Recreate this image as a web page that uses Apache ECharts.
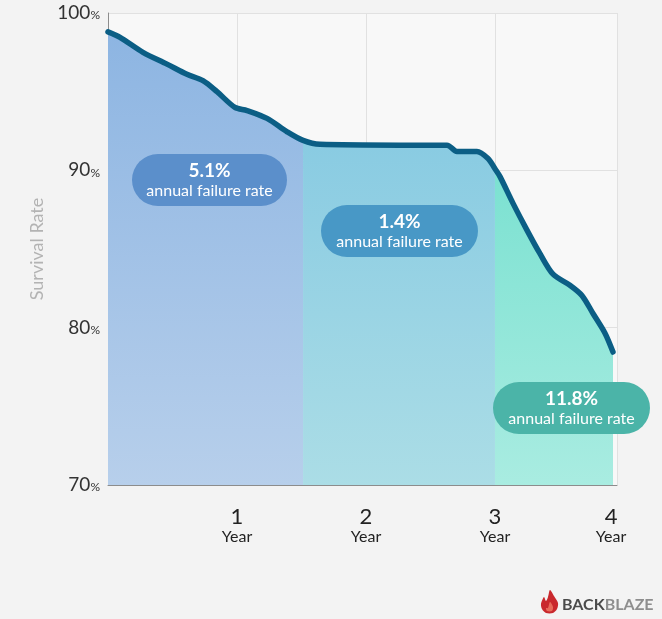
<!DOCTYPE html>
<html>
<head>
<meta charset="utf-8">
<script src="https://cdn.jsdelivr.net/npm/echarts@6/dist/echarts.min.js"></script>
<style>html,body{margin:0;padding:0;background:#f3f3f3;}#c{width:662px;height:619px;}</style>
</head>
<body>
<div id="c"></div>
<script>
// ---- data ----
var years = [0, 0.093, 0.271, 0.457, 0.612, 0.736, 0.845, 0.984, 1.078, 1.233, 1.388, 1.512, 1.643, 2.264, 2.628, 2.705, 2.86, 2.946, 3.0, 3.039, 3.14, 3.248, 3.349, 3.45, 3.581, 3.674, 3.76, 3.853, 3.915];
var survival = [98.8, 98.45, 97.5, 96.75, 96.1, 95.7, 95.0, 94.0, 93.8, 93.3, 92.45, 91.9, 91.65, 91.6, 91.6, 91.2, 91.2, 90.75, 90.1, 89.6, 87.9, 86.2, 84.7, 83.4, 82.7, 82.05, 80.9, 79.65, 78.45];
var segmentBreaks = [1.512, 3.0];
var failureRates = ['5.1%', '1.4%', '11.8%'];
var failureLabel = 'annual failure rate';
var xTickValues = [1, 2, 3, 3.9];
var xTickLabels = ['1', '2', '3', '4'];
var xUnit = 'Year';
var yTicks = [70, 80, 90, 100];

var FONT = 'Lato, "Open Sans", sans-serif';
var pts = years.map(function (x, i) { return [x, survival[i]]; });
function seg(a, b) { return pts.filter(function (p) { return p[0] >= a && p[0] <= b; }); }
var segData = [
  seg(0, segmentBreaks[0]),
  seg(segmentBreaks[0], segmentBreaks[1]),
  seg(segmentBreaks[1], 99)
];
var segColors = [
  ['#8db5e2', '#b7cfeb'],
  ['#89cbe2', '#abdde6'],
  ['#7be1d1', '#a9ece1']
];
function grad(c) {
  return new echarts.graphic.LinearGradient(0, 0, 0, 1, [
    { offset: 0, color: c[0] }, { offset: 1, color: c[1] }
  ]);
}
var SMOOTH = 0.3;
var series = segData.map(function (d, i) {
  return {
    type: 'line', data: d, smooth: SMOOTH, symbol: 'none',
    lineStyle: { width: 0 }, areaStyle: { color: grad(segColors[i]), opacity: 1, origin: 'start' },
    z: 2, silent: true
  };
});
series.push({
  type: 'line', data: pts, smooth: SMOOTH, symbol: 'none',
  lineStyle: { color: '#0b5e85', width: 5.5, cap: 'round', join: 'round' },
  z: 5, silent: true
});

function badge(x, y, w, h, color, pct) {
  return {
    type: 'group', x: x, y: y,
    children: [
      { type: 'rect', z: 100, shape: { x: 0, y: 0, width: w, height: h, r: h / 2 }, style: { fill: color } },
      { type: 'text', z: 101, x: w / 2, y: 17, style: { text: pct, fill: '#fff', font: 'bold 19px ' + FONT, align: 'center', verticalAlign: 'middle' } },
      { type: 'text', z: 101, x: w / 2, y: 37, style: { text: failureLabel, fill: '#fff', font: '16px ' + FONT, align: 'center', verticalAlign: 'middle' } }
    ]
  };
}

var chart = echarts.init(document.getElementById('c'), null, { renderer: 'canvas' });
chart.setOption({
  backgroundColor: '#f3f3f3',
  animation: false,
  grid: { left: 108, right: 45, top: 13, bottom: 134, show: true, backgroundColor: '#f8f8f8', borderWidth: 0 },
  xAxis: {
    type: 'value', min: 0, max: 3.946, interval: 1,
    axisLine: { show: true, lineStyle: { color: '#8c8c8c', width: 1 } },
    axisTick: { show: false },
    splitLine: { show: true, lineStyle: { color: '#e1e1e1', width: 1 } },
    axisLabel: {
      customValues: xTickValues,
      margin: 22,
      formatter: function (v) {
        var i = xTickValues.indexOf(v);
        if (i < 0) return '';
        return '{n|' + xTickLabels[i] + '}\n{u|' + xUnit + '}';
      },
      rich: {
        n: { fontSize: 22, fontFamily: FONT, color: '#222', lineHeight: 20 },
        u: { fontSize: 16, fontFamily: FONT, color: '#222', lineHeight: 19 }
      }
    }
  },
  yAxis: {
    type: 'value', min: yTicks[0], max: yTicks[yTicks.length - 1], interval: 10,
    name: 'Survival Rate', nameLocation: 'middle', nameGap: 62, nameRotate: 90,
    nameTextStyle: { color: '#b3b3b3', fontSize: 18, fontFamily: FONT },
    axisLine: { show: true, lineStyle: { color: '#8c8c8c', width: 1 } },
    axisTick: { show: false },
    splitLine: { show: true, lineStyle: { color: '#e1e1e1', width: 1 } },
    axisLabel: {
      margin: 8,
      formatter: function (v) { return '{n|' + v + '}{p|%}'; },
      rich: {
        n: { fontSize: 19, fontFamily: FONT, color: '#333' },
        p: { fontSize: 12, fontFamily: FONT, color: '#333', padding: [5, 0, 0, 0] }
      }
    }
  },
  series: series,
  graphic: [
    badge(132, 154, 155, 52, '#5b8fcb', failureRates[0]),
    badge(321, 205, 157, 52, '#4898c6', failureRates[1]),
    badge(493, 382, 157, 52, '#4bb4a8', failureRates[2]),
    {
      type: 'polygon', x: 541, y: 590, z: 100,
      shape: { points: [[9, 0], [13, 6], [17, 13], [16, 19], [12, 23], [5, 23], [1, 19], [0, 14], [3, 7], [5, 11], [7, 7]], smooth: 0.3 },
      style: { fill: '#c9282d' }
    },
    {
      type: 'polygon', x: 541, y: 590, z: 101,
      shape: { points: [[9, 12], [12, 17], [11, 21], [6, 21], [5, 18], [7, 18]], smooth: 0.3 },
      style: { fill: '#e86a5a' }
    },
    {
      type: 'text', x: 562, y: 605, z: 100,
      style: { text: '{a|BACK}{b|BLAZE}', verticalAlign: 'middle', rich: {
        a: { fontSize: 16, fontWeight: 'bold', fontFamily: FONT, fill: '#4a4a4a' },
        b: { fontSize: 16, fontWeight: 'bold', fontFamily: FONT, fill: '#8e8e8e' }
      } }
    }
  ]
});
</script>
</body>
</html>
